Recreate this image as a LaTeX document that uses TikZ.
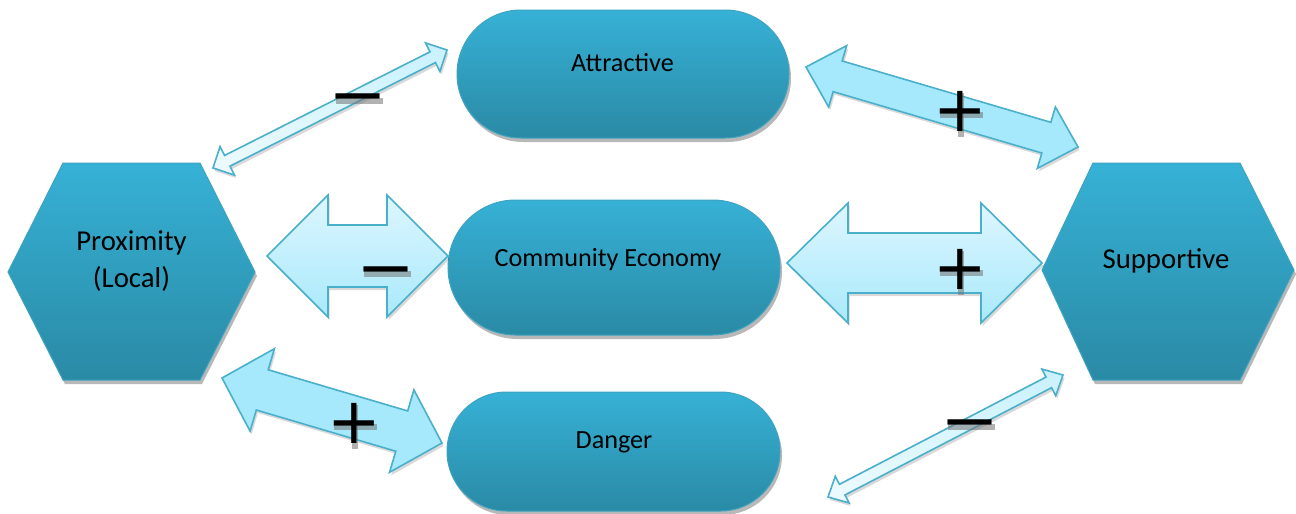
\documentclass[tikz,border=0pt]{standalone}
\usepackage{fontspec}
\setmainfont{Carlito}
\newfontfamily\signfont{DejaVu Sans}
\usetikzlibrary{calc,shadows}
\definecolor{shapetop}{HTML}{36B1D6}
\definecolor{shapebot}{HTML}{2A8AA5}
\definecolor{shapeedge}{HTML}{3FA3C0}
\definecolor{arrowedge}{HTML}{4AAFCB}
\definecolor{arrowtop}{HTML}{DDF6FF}
\definecolor{arrowbot}{HTML}{A9E9FB}
\definecolor{thintop}{HTML}{C8F1FD}
\definecolor{thinbot}{HTML}{EEFBFF}
\definecolor{bigfill}{HTML}{A6E9FC}
\tikzset{
  shapestyle/.style={top color=shapetop, bottom color=shapebot, draw=shapeedge, line width=0.5pt,
    drop shadow={shadow xshift=1pt, shadow yshift=-2pt, fill=black, opacity=0.28}},
  stadium/.style={shapestyle, rectangle, inner sep=0pt},
  lbl/.style={font=\fontsize{13.1}{18.5}\selectfont, text=black, inner sep=0pt, align=center},
  hexlbl/.style={lbl, font=\fontsize{14.4}{18.5}\selectfont},
  blockarr/.style={top color=arrowtop, bottom color=arrowbot, draw=arrowedge, line width=0.8pt,
    drop shadow={shadow xshift=0.8pt, shadow yshift=-1.5pt, fill=black, opacity=0.15}},
  thinarr/.style={blockarr, top color=thintop, bottom color=thinbot},
  bigarr/.style={blockarr, top color=bigfill, bottom color=bigfill},
  sign/.style={font=\signfont\fontsize{32}{32}\selectfont, inner sep=0pt, anchor=base, text=black},
  signshadow/.style={fill=black!55, opacity=0.55}
}
% #1 style, #2 tip A, #3 tip B, #4 shaft half width, #5 head half width, #6 head length
\newcommand\dblarrow[6]{%
  \coordinate (ha) at ($(#2)!#6!(#3)$);
  \coordinate (hb) at ($(#3)!#6!(#2)$);
  \path[#1] (#2) -- ($(ha)!#5!90:(#3)$) -- ($(ha)!#4!90:(#3)$) -- ($(hb)!#4!-90:(#2)$)
    -- ($(hb)!#5!-90:(#2)$) -- (#3) -- ($(hb)!#5!90:(#2)$) -- ($(hb)!#4!90:(#2)$)
    -- ($(ha)!#4!-90:(#3)$) -- ($(ha)!#5!-90:(#3)$) -- cycle;
}
% minus sign: name, centre
\newcommand\minusat[2]{%
  \path[signshadow] ($(#2)+(-22.5,3)$) rectangle ($(#2)+(24.5,9)$);
  \node[sign] (#1) at ($(#2)+(0,21.5)$) {\scalebox{1.1}[1]{−}};
}
% plus sign: name, centre
\newcommand\plusat[2]{%
  \path[signshadow] ($(#2)+(-20.5,2)$) rectangle ($(#2)+(22.5,8)$);
  \path[signshadow] ($(#2)+(-2,-17)$) rectangle ($(#2)+(4,27)$);
  \node[sign] (#1) at ($(#2)+(0,21.5)$) {+};
}
\begin{document}
\begin{tikzpicture}[x=0.5pt,y=-0.5pt]
\useasboundingbox (0,0) rectangle (1296,514);
% hexagons
\path[shapestyle] (63,163) -- (200,163) -- (255,272) -- (200,380) -- (63,380) -- (8,272) -- cycle;
\path[shapestyle] (1093,163) -- (1240,163) -- (1294,270) -- (1240,380) -- (1093,380) -- (1042,270) -- cycle;
% stadiums
\node[stadium, minimum width=166pt, minimum height=64pt, rounded corners=32pt] (attr) at (623,74) {};
\node[stadium, minimum width=166pt, minimum height=67.5pt, rounded corners=33.75pt] (comm) at (614,267.5) {};
\node[stadium, minimum width=166.5pt, minimum height=59.5pt, rounded corners=29.75pt] (dang) at (613.5,451.5) {};
% labels
\node[lbl, anchor=base] (attrT) at (622.5,71) {Attractive};
\node[lbl, anchor=base] (commT) at (608,266) {Community Economy};
\node[lbl, anchor=base] (dangT) at (614,448) {Danger};
\node[hexlbl, anchor=base] (prox) at (131.5,287) {Proximity\\(Local)};
\node[hexlbl, anchor=base] (supp) at (1166,268) {Supportive};
% arrow tips
\coordinate (tlA) at (213,168);  \coordinate (tlB) at (447,50);
\coordinate (trA) at (806,67);   \coordinate (trB) at (1078,147);
\coordinate (mlA) at (267,256);  \coordinate (mlB) at (448,256);
\coordinate (mrA) at (787,263);  \coordinate (mrB) at (1042,263);
\coordinate (blA) at (222,378);  \coordinate (blB) at (442,443);
\coordinate (brA) at (828,497);  \coordinate (brB) at (1063,375);
\dblarrow{thinarr}{tlA}{tlB}{3pt}{8pt}{8pt}
\dblarrow{bigarr}{trA}{trB}{8pt}{16pt}{16.5pt}
\dblarrow{blockarr}{mlA}{mlB}{15.5pt}{30.5pt}{30.5pt}
\dblarrow{blockarr}{mrA}{mrB}{15pt}{30pt}{30.5pt}
\dblarrow{bigarr}{blA}{blB}{10.5pt}{21.5pt}{21pt}
\dblarrow{thinarr}{brA}{brB}{3pt}{7.5pt}{8pt}
% signs
\coordinate (m1) at (358,95);
\coordinate (m2) at (386,268);
\coordinate (m3) at (970,421);
\coordinate (p1) at (960,110);
\coordinate (p2) at (960,268);
\coordinate (p3) at (354,422);
\minusat{minusA}{m1}
\minusat{minusB}{m2}
\minusat{minusC}{m3}
\plusat{plusA}{p1}
\plusat{plusB}{p2}
\plusat{plusC}{p3}
\end{tikzpicture}
\end{document}
